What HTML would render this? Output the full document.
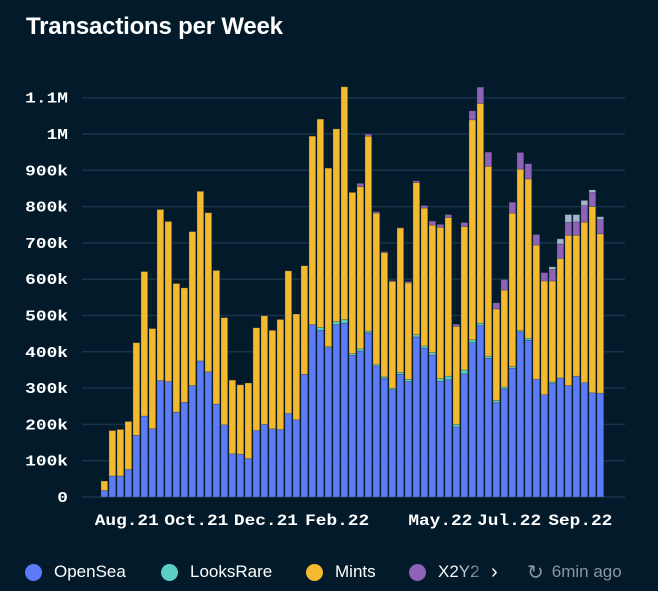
<!DOCTYPE html>
<html><head><meta charset="utf-8"><style>
body{margin:0;background:#031a2a;width:658px;height:591px;overflow:hidden;font-family:"Liberation Sans",sans-serif}
.title{position:absolute;left:26px;top:13px;color:#fff;font-weight:bold;font-size:24px;letter-spacing:-0.2px}
.legend{position:absolute;top:560px;left:0;height:24px;width:658px;font-size:17px;color:#fff}
.li{position:absolute;top:0;display:flex;align-items:center;height:24px}
.dot{width:17px;height:17px;border-radius:50%;margin-right:12px}
</style></head><body>
<div class="title">Transactions per Week</div>
<svg id="chart" width="658" height="545" style="position:absolute;left:0;top:0"></svg>
<div class="legend">
 <div class="li" style="left:25px"><span class="dot" style="background:#5b7bf7"></span>OpenSea</div>
 <div class="li" style="left:161px"><span class="dot" style="background:#5ccfc4"></span>LooksRare</div>
 <div class="li" style="left:306px"><span class="dot" style="background:#f4b92e"></span>Mints</div>
 <div class="li" style="left:409px"><span class="dot" style="background:#8d62b8"></span><span style="background:linear-gradient(90deg,#fff 40%,#5a6a78);-webkit-background-clip:text;color:transparent">X2Y2</span></div>
 <div class="li" style="left:491px;font-size:20px">›</div>
 <div class="li" style="left:527px;color:#8a96a0"><span style="font-size:20px;margin-right:8px">↻</span>6min ago</div>
</div>
<script>
const categories = Array.from({length:63},(_,i)=>'w'+(i+1));
const openSea = [18,58,58,76,170,223,188,321,318,234,261,307,375,345,256,199,119,118,106,183,200,188,186,230,213,338,475,459,411,475,479,390,402,452,361,327,296,338,318,441,410,391,319,323,193,339,425,472,382,260,298,355,455,432,324,282,313,328,307,333,315,287,286];
const looksRare = [0,0,0,0,0,0,0,0,0,0,0,0,0,0,0,0,0,0,0,0,0,0,0,0,0,0,0,8,3,8,10,5,6,5,4,4,4,5,6,6,6,7,7,10,7,11,8,7,6,6,5,4,3,5,0,0,4,0,0,0,0,0,0];
const mints = [26,125,128,132,255,398,276,471,441,354,315,424,467,438,368,295,203,191,208,283,299,271,303,393,291,299,519,574,492,531,641,444,447,537,417,342,294,398,266,419,380,351,417,437,270,395,606,605,523,252,267,423,445,439,370,313,278,329,414,388,442,513,439];
const x2y2 = [0,0,0,0,0,0,0,0,0,0,0,0,0,0,0,0,0,0,0,0,0,0,0,0,0,0,0,0,0,0,0,0,9,6,4,3,2,1,4,5,7,11,8,8,6,11,25,45,39,17,29,30,46,42,29,23,32,40,36,37,46,39,39];
const other = [0,0,0,0,0,0,0,0,0,0,0,0,0,0,0,0,0,0,0,0,0,0,0,0,0,0,0,0,0,0,0,0,0,0,0,0,0,0,0,0,0,0,0,0,0,0,0,0,0,0,0,0,0,0,0,0,7,14,21,20,14,7,8];
const yTicks = [0,100,200,300,400,500,600,700,800,900,1000,1100];
const yTickLabels = ['0','100k','200k','300k','400k','500k','600k','700k','800k','900k','1M','1.1M'];
const xTickPos = [2.8,11.5,20.2,29.1,42.0,50.6,59.5];
const xTickLabels = ['Aug.21','Oct.21','Dec.21','Feb.22','May.22','Jul.22','Sep.22'];

const svg = document.getElementById('chart');
const NS = 'http://www.w3.org/2000/svg';
const y0 = 497, pxPerK = 0.363, x0 = 101, pitch = 8, bw = 6.7;
const yScale = v => y0 - v*pxPerK;
const xScale = i => x0 + i*pitch;
function mk(tag, attrs){const e=document.createElementNS(NS,tag);for(const k in attrs)e.setAttribute(k,attrs[k]);svg.appendChild(e);return e;}
yTicks.forEach((t,i)=>{
  const l = mk('line',{x1:82,x2:625,y1:yScale(t),y2:yScale(t),stroke:'#17344a','stroke-width':1.5});
  
  
  const s = yTickLabels[i];
  const tx = mk('text',{x:68,y:yScale(t)+5,'text-anchor':'end',fill:'#fff','font-size':15,'font-weight':'bold','font-family':'"Liberation Mono",monospace',textLength:s.length*10.7,lengthAdjust:'spacingAndGlyphs'});
  tx.textContent = s;
  
  
});
const series = [[openSea,'#5b7bf7'],[looksRare,'#5ccfc4'],[mints,'#f4b92e'],[x2y2,'#8d62b8'],[other,'#a3b5cc']];
categories.forEach((c,i)=>{
  let acc = 0;
  series.forEach(([arr,col])=>{
    const v = arr[i]; if(!v) return;
    const r = mk('rect',{x:xScale(i),y:yScale(acc+v),width:bw,height:v*pxPerK,fill:col,stroke:'rgba(40,50,40,0.45)','stroke-width':0.6});
    
    
    acc += v;
  });
});
xTickPos.forEach((p,i)=>{
  const tx = mk('text',{x:xScale(p)+bw/2,y:525,'text-anchor':'middle',fill:'#fff','font-size':16,'font-weight':'bold','font-family':'"Liberation Mono",monospace',textLength:64,lengthAdjust:'spacingAndGlyphs'});
  tx.textContent = xTickLabels[i];
  
  
});
</script>
</body></html>
